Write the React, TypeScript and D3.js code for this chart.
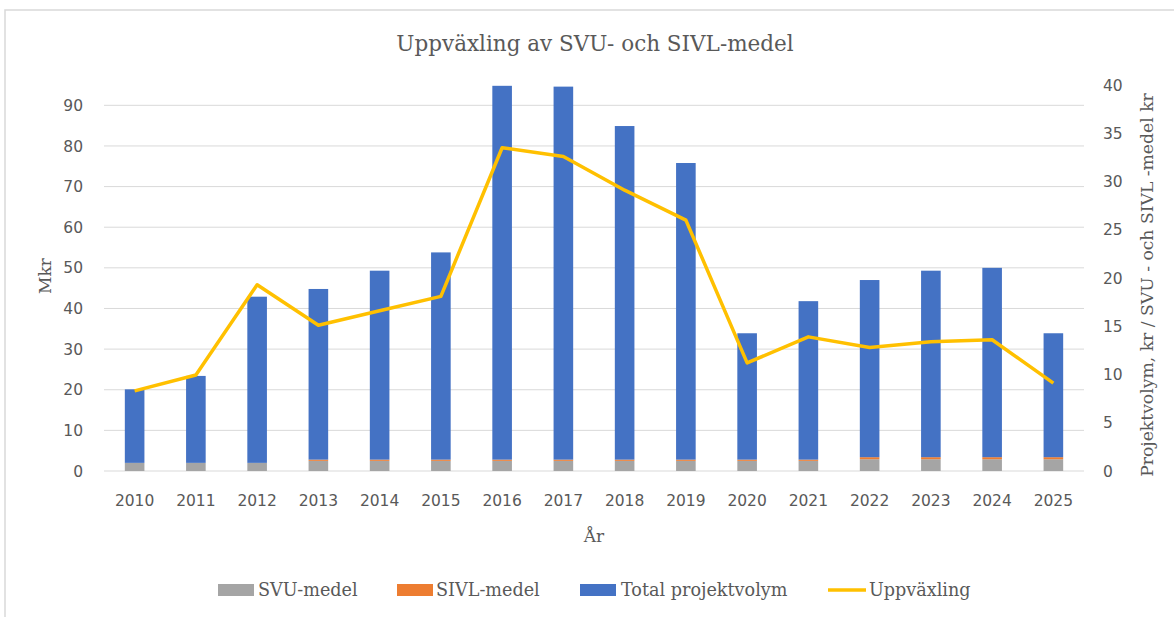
import React from "react";
import * as d3 from "d3";

const years = ["2010","2011","2012","2013","2014","2015","2016","2017","2018","2019","2020","2021","2022","2023","2024","2025"];
const svuMedel = [2.0,2.0,2.0,2.5,2.5,2.5,2.5,2.5,2.5,2.5,2.5,2.5,2.9,2.9,2.9,2.9];
const sivlMedel = [0,0,0,0.3,0.3,0.3,0.3,0.3,0.3,0.3,0.3,0.3,0.5,0.5,0.5,0.5];
const totalProjektvolym = [18.1,21.4,40.9,42.0,46.5,51.0,92.0,91.8,82.1,73.0,31.1,39.0,43.6,45.9,46.6,30.5];
const uppvaxling = [8.3,9.95,19.3,15.1,16.6,18.1,33.5,32.6,29.1,26.0,11.2,13.9,12.8,13.4,13.6,9.1];
const leftTicks = [0,10,20,30,40,50,60,70,80,90];
const rightTicks = [0,5,10,15,20,25,30,35,40];

const W = 1174, H = 617;
const X0 = 104, X1 = 1084, Y0 = 471, Y1 = 85;
const TXT = "#595959";
const GRID = "#d9d9d9";
const SERIF = "'DejaVu Serif', serif";
const SANS = "'DejaVu Sans', sans-serif";

export default function App() {
  const x = d3.scaleBand<string>().domain(years).range([X0, X1]).paddingInner(0.68).paddingOuter(0.34);
  const yL = d3.scaleLinear().domain([0, 95]).range([Y0, Y1]);
  const yR = d3.scaleLinear().domain([0, 40]).range([Y0, Y1]);
  const bw = x.bandwidth();
  const cx = (y: string) => (x(y) as number) + bw / 2;

  const line = d3.line<number>()
    .x((_, i) => cx(years[i]))
    .y((v) => yR(v));

  const legendItems = [
    { label: "SVU-medel", color: "#A5A5A5", sx: 218, tx: 258, kind: "rect" },
    { label: "SIVL-medel", color: "#ED7D31", sx: 397, tx: 436, kind: "rect" },
    { label: "Total projektvolym", color: "#4472C4", sx: 580, tx: 621, kind: "rect" },
    { label: "Uppväxling", color: "#FFC000", sx: 828, tx: 869, kind: "line" },
  ];

  return (
    <svg width={W} height={H} style={{ position: "absolute", left: 0, top: 0, background: "#fff" }}>
      <rect x={0} y={0} width={W} height={H} fill="#fff" />
      <rect x={5} y={10} width={1300} height={800} fill="none" stroke={GRID} strokeWidth={1.5} />
      <text x={595} y={51} textAnchor="middle" fontFamily={SERIF} fontSize={21.5} fill={TXT}>
        Uppväxling av SVU- och SIVL-medel
      </text>

      {leftTicks.filter((t) => t > 0).map((t) => (
        <line key={"g" + t} x1={X0} x2={X1} y1={yL(t)} y2={yL(t)} stroke={GRID} strokeWidth={1} />
      ))}
      <line x1={X0} x2={X1} y1={Y0} y2={Y0} stroke={GRID} strokeWidth={1.2} />

      {years.map((yr, i) => {
        const s = svuMedel[i], o = sivlMedel[i], t = totalProjektvolym[i];
        return (
          <g key={yr}>
            <rect x={x(yr)} y={yL(s)} width={bw} height={yL(0) - yL(s)} fill="#A5A5A5" />
            {o > 0 && <rect x={x(yr)} y={yL(s + o)} width={bw} height={yL(s) - yL(s + o)} fill="#ED7D31" />}
            <rect x={x(yr)} y={yL(s + o + t)} width={bw} height={yL(s + o) - yL(s + o + t)} fill="#4472C4" />
          </g>
        );
      })}

      <path d={line(uppvaxling) || ""} fill="none" stroke="#FFC000" strokeWidth={3.5} strokeLinejoin="round" />

      {leftTicks.map((t) => (
        <text key={"l" + t} x={83} y={yL(t)} dy="0.36em" textAnchor="end" fontFamily={SANS} fontSize={15.5} fill={TXT}>{t}</text>
      ))}
      {rightTicks.map((t) => (
        <text key={"r" + t} x={1103} y={yR(t)} dy="0.36em" textAnchor="start" fontFamily={SANS} fontSize={15.5} fill={TXT}>{t}</text>
      ))}
      {years.map((yr) => (
        <text key={"x" + yr} x={cx(yr)} y={500} dy="0.36em" textAnchor="middle" fontFamily={SANS} fontSize={15.5} fill={TXT}>{yr}</text>
      ))}

      <text transform="translate(45,276) rotate(-90)" textAnchor="middle" dy="0.36em" fontFamily={SERIF} fontSize={17} fill={TXT}>Mkr</text>
      <text x={594} y={536} dy="0.36em" textAnchor="middle" fontFamily={SERIF} fontSize={17} fill={TXT}>År</text>
      <text transform="translate(1147,285) rotate(-90)" textAnchor="middle" dy="0.36em" fontFamily={SERIF} fontSize={17.2} fill={TXT}>
        Projektvolym, kr / SVU - och SIVL -medel kr
      </text>

      {legendItems.map((it) => (
        <g key={it.label}>
          {it.kind === "rect" ? (
            <rect x={it.sx} y={584} width={36} height={12} fill={it.color} />
          ) : (
            <line x1={it.sx} x2={it.sx + 38} y1={590} y2={590} stroke={it.color} strokeWidth={3.5} />
          )}
          <text x={it.tx} y={590} dy="0.36em" fontFamily={SERIF} fontSize={17.6} fill={TXT}>{it.label}</text>
        </g>
      ))}
    </svg>
  );
}
